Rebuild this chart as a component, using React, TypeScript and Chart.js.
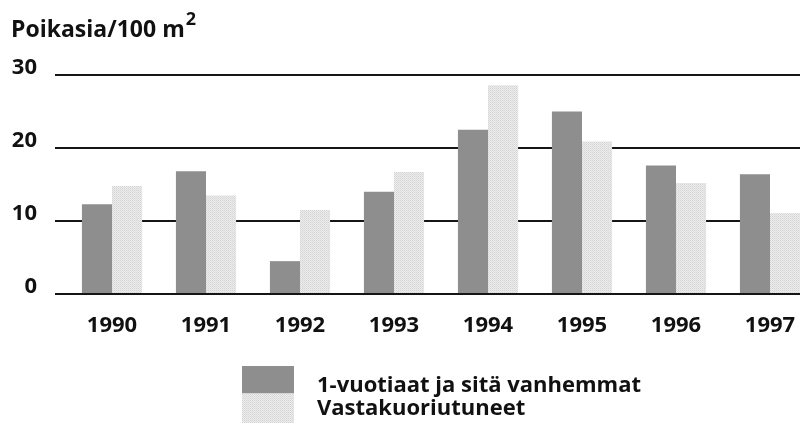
import React, { useEffect, useRef } from "react";
import { Chart, registerables } from "chart.js";

Chart.register(...registerables);

const years = ["1990", "1991", "1992", "1993", "1994", "1995", "1996", "1997"];
const olderFish = [12.3, 16.8, 4.5, 14.0, 22.5, 25.0, 17.6, 16.4];
const newlyHatched = [14.8, 13.5, 11.5, 16.7, 28.6, 20.9, 15.2, 11.1];
const seriesLabels = ["1-vuotiaat ja sitä vanhemmat", "Vastakuoriutuneet"];
const yTicks = [0, 10, 20, 30];
const titleText = "Poikasia/100 m";
const titleSup = "2";

const FONT = "'Open Sans', sans-serif";
const DARK = "#8e8e8e";

function makePattern(): CanvasPattern | string {
  const c = document.createElement("canvas");
  c.width = 2;
  c.height = 2;
  const g = c.getContext("2d");
  if (!g) return "#e2e2e2";
  g.fillStyle = "#ececec";
  g.fillRect(0, 0, 2, 2);
  g.fillStyle = "#d4d4d4";
  g.fillRect(0, 0, 1, 1);
  g.fillStyle = "#dedede";
  g.fillRect(1, 1, 1, 1);
  const p = g.createPattern(c, "repeat");
  return p || "#e2e2e2";
}

export default function App() {
  const ref = useRef<HTMLCanvasElement | null>(null);

  useEffect(() => {
    if (!ref.current) return;
    const light = makePattern();

    const overlay = {
      id: "overlay",
      afterDraw(chart: any) {
        const ctx = chart.ctx as CanvasRenderingContext2D;
        ctx.save();
        // title
        ctx.fillStyle = "#111";
        ctx.textBaseline = "alphabetic";
        ctx.textAlign = "left";
        ctx.font = `bold 23px ${FONT}`;
        ctx.fillText(titleText, 11, 37);
        const w = ctx.measureText(titleText).width;
        ctx.font = `bold 18px ${FONT}`;
        ctx.fillText(titleSup, 11 + w + 1, 25);
        // legend
        const ds = chart.data.datasets;
        const bx = 242, bw = 52;
        ctx.fillStyle = ds[0].backgroundColor;
        ctx.fillRect(bx, 366, bw, 27.5);
        ctx.fillStyle = ds[1].backgroundColor;
        ctx.fillRect(bx, 393.5, bw, 40);
        ctx.fillStyle = "#111";
        ctx.font = `bold 22px ${FONT}`;
        ctx.fillText(ds[0].label, 317, 392);
        ctx.fillText(ds[1].label, 317, 415);
        ctx.restore();
      },
    };

    const chart = new Chart(ref.current, {
      type: "bar",
      data: {
        labels: years,
        datasets: [
          {
            label: seriesLabels[0],
            data: olderFish,
            backgroundColor: DARK,
            borderWidth: 0,
          },
          {
            label: seriesLabels[1],
            data: newlyHatched,
            backgroundColor: light as any,
            borderWidth: 0,
          },
        ],
      },
      options: {
        animation: false,
        responsive: false,
        maintainAspectRatio: false,
        layout: { padding: { top: 75, left: 0, right: 3, bottom: 0 } },
        plugins: {
          legend: { display: false },
          title: { display: false },
          tooltip: { enabled: false },
        },
        datasets: {
          bar: { barPercentage: 1, categoryPercentage: 0.64 },
        },
        scales: {
          x: {
            offset: true,
            grid: { display: false },
            border: { display: false },
            ticks: {
              color: "#111",
              font: { family: FONT, size: 22, weight: "bold" },
              padding: 11,
              maxRotation: 0,
            },
            afterFit(scale: any) {
              scale.height = 129;
            },
          },
          y: {
            min: 0,
            max: 30,
            afterBuildTicks(scale: any) {
              scale.ticks = yTicks.map((v) => ({ value: v }));
            },
            grid: {
              color: "#151515",
              lineWidth: 2,
              drawTicks: true,
              tickLength: 10,
            },
            border: { display: false },
            ticks: {
              color: "#111",
              font: { family: FONT, size: 22, weight: "bold" },
              padding: 18,
              labelOffset: -7,
            },
            afterFit(scale: any) {
              scale.width = 65;
            },
          },
        },
      },
      plugins: [overlay],
    });
    return () => chart.destroy();
  }, []);

  return (
    <div
      style={{
        position: "fixed",
        left: 0,
        top: 0,
        width: 800,
        height: 423,
        overflow: "hidden",
        background: "#fff",
      }}
    >
      <canvas ref={ref} width={820} height={423} style={{ display: "block" }} />
    </div>
  );
}
